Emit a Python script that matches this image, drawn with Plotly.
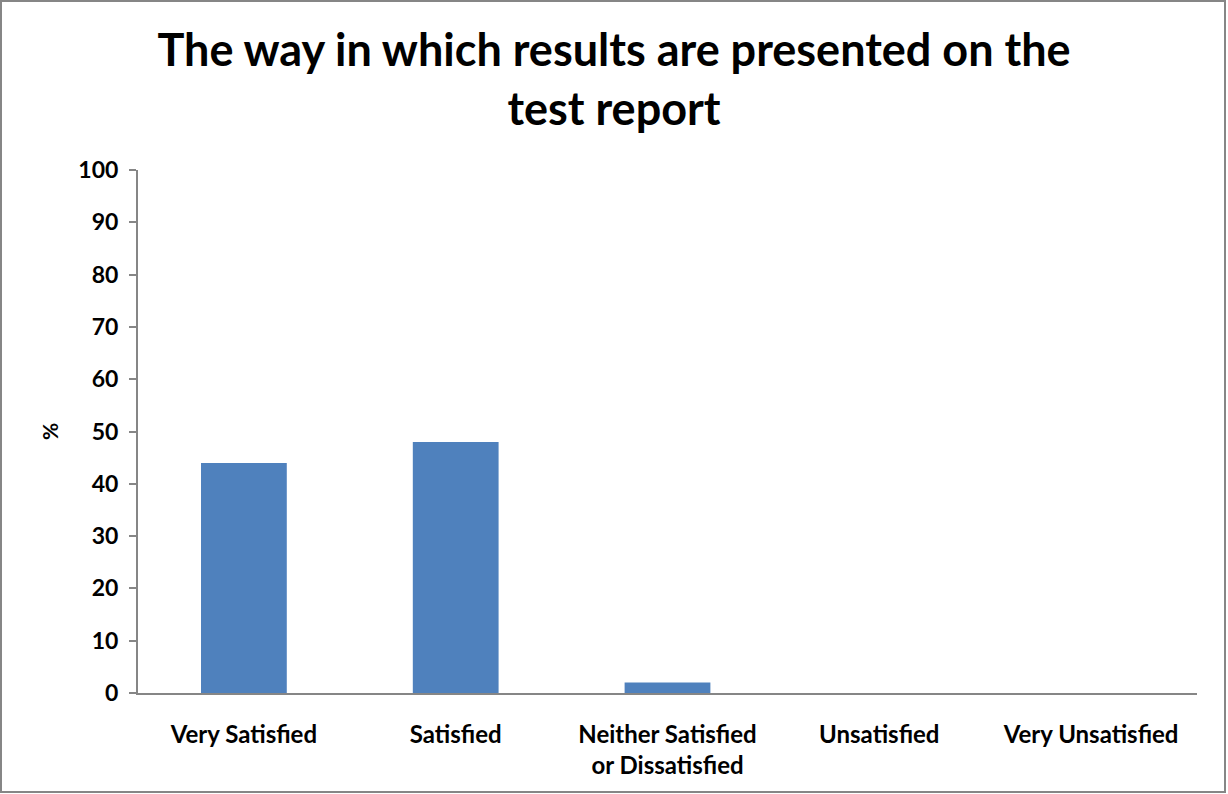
import plotly.graph_objects as go

categories = ["Very Satisfied", "Satisfied", "Neither Satisfied<br>or Dissatisfied",
              "Unsatisfied", "Very Unsatisfied"]
percent = [44, 48, 2, 0, 0]

W, H = 1228, 794
L, R, T, B = 138, 31, 170, 101
pw, ph = W - L - R, H - T - B
FONT = "Lato, Calibri, Arial"

fig = go.Figure(go.Bar(
    x=categories, y=percent,
    marker=dict(color="#4F81BD", line=dict(width=0)),
))

def px(x):
    return (x - L) / pw

def py(y):
    return (H - B - y) / ph

fig.update_layout(
    width=W, height=H,
    margin=dict(l=L, r=R, t=T, b=B),
    paper_bgcolor="white", plot_bgcolor="white",
    bargap=0.595,
    showlegend=False,
    font=dict(family=FONT, color="black"),
    title=dict(
        text="<b>The way in which results are presented on the<br>test report</b>",
        x=0.5, xanchor="center", y=1 - 66 / H, yanchor="middle",
        font=dict(size=45, family=FONT),
    ),
    xaxis=dict(
        showline=True, linecolor="#868686", linewidth=2,
        ticks="", showgrid=False,
        tickfont=dict(size=24, family=FONT, weight="bold"),
        ticklabelstandoff=19,
    ),
    yaxis=dict(
        range=[0, 100], dtick=10,
        showline=True, linecolor="#868686", linewidth=2,
        ticks="outside", ticklen=7, tickcolor="#868686", tickwidth=2,
        showgrid=False, zeroline=False,
        tickfont=dict(size=23, family=FONT, weight="bold"),
        ticklabelstandoff=6,
        title=dict(text="<b>%</b>", font=dict(size=21), standoff=14),
    ),
    shapes=[dict(
        type="rect", xref="paper", yref="paper",
        x0=px(1), x1=px(1225), y0=py(1), y1=py(792),
        line=dict(color="#868686", width=2), fillcolor="rgba(0,0,0,0)",
        layer="below",
    )],
)

fig.write_html("out.html")
